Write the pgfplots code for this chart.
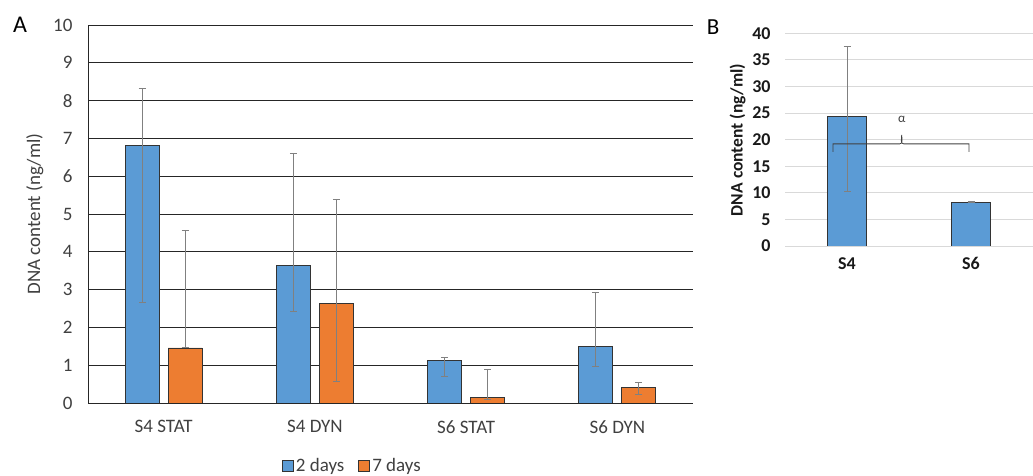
\documentclass[border=0pt]{standalone}
\usepackage{fontspec}
\setmainfont{Carlito}
\usepackage{pgfplots}
\pgfplotsset{compat=1.18}
\definecolor{cblue}{HTML}{5B9BD5}
\definecolor{corange}{HTML}{ED7D31}
\definecolor{errgray}{HTML}{808080}
\definecolor{txt}{HTML}{404040}
\begin{document}
\begin{tikzpicture}[x=1bp,y=1bp]
\useasboundingbox (0,0) rectangle (1033,476);
\node[font=\fontsize{24bp}{28bp}\selectfont, text=black] at (20,451) {A};
\node[font=\fontsize{23bp}{27bp}\selectfont, text=black] at (713,448.5) {B};
\begin{axis}[
  at={(88bp,73bp)}, anchor=south west, scale only axis,
  width=605bp, height=378bp,
  xmin=-0.5, xmax=3.5, ymin=0, ymax=10,
  xtick={0,1,2,3}, xticklabels={S4 STAT, S4 DYN, S6 STAT, S6 DYN},
  ytick={0,1,...,10},
  major tick length=0pt,
  axis x line*=bottom, axis y line*=left,
  axis line style={black!85, line width=0.9bp, -},
  ymajorgrids, grid style={black!85, line width=0.9bp},
  /pgf/number format/assume math mode=true,
  tick label style={font=\fontsize{19bp}{22bp}\selectfont, text=txt},
  xticklabel style={yshift=-14bp},
  yticklabel style={xshift=-12bp},
  ylabel={DNA content (ng/ml)},
  ylabel style={font=\fontsize{19bp}{22bp}\selectfont, text=txt, at={(axis description cs:-0.088,0.5)}, anchor=center},
  legend style={at={(axis description cs:0.437,-0.167)}, anchor=center, draw=none, fill=none,
    legend columns=2, font=\fontsize{19bp}{22bp}\selectfont, text=txt,
    /tikz/every even column/.append style={column sep=12bp}},
]
\addplot[ybar, bar width=0.225, bar shift=0, fill=cblue, draw=black!80, line width=0.9bp,
  legend image code/.code={\draw[fill=cblue, draw=black!80, line width=0.9bp] (0bp,-5.5bp) rectangle (11bp,5.5bp);},
  error bars/.cd, y dir=both, y explicit,
  error bar style={errgray, line width=1bp},
  error mark options={errgray, rotate=90, mark size=3.5bp, line width=1bp}]
  coordinates {
  (-0.142,6.80) += (0,1.53) -= (0,4.15)
  (0.858,3.65) += (0,2.96) -= (0,1.22)
  (1.858,1.12) += (0,0.08) -= (0,0.42)
  (2.858,1.50) += (0,1.43) -= (0,0.54)
  };
\addlegendentry{2 days}
\addplot[ybar, bar width=0.225, bar shift=0, fill=corange, draw=black!80, line width=0.9bp,
  legend image code/.code={\draw[fill=corange, draw=black!80, line width=0.9bp] (0bp,-5.5bp) rectangle (11bp,5.5bp);},
  error bars/.cd, y dir=both, y explicit,
  error bar style={errgray, line width=1bp},
  error mark options={errgray, rotate=90, mark size=3.5bp, line width=1bp}]
  coordinates {
  (0.142,1.455) += (0,3.10) -= (0,0)
  (1.142,2.64) += (0,2.75) -= (0,2.08)
  (2.142,0.14) += (0,0.75) -= (0,0.04)
  (3.142,0.41) += (0,0.13) -= (0,0.18)
  };
\addlegendentry{7 days}
\end{axis}
\begin{axis}[
  at={(785bp,230bp)}, anchor=south west, scale only axis,
  width=248bp, height=212.7bp,
  xmin=-0.5, xmax=1.5, ymin=0, ymax=40,
  xtick={0,1}, xticklabels={S4, S6},
  ytick={0,5,...,40},
  major tick length=0pt,
  axis line style={draw=none},
  ymajorgrids, grid style={black!15, line width=0.9bp},
  /pgf/number format/assume math mode=true,
  tick label style={font=\bfseries\fontsize{18bp}{21bp}\selectfont, text=black!90},
  xticklabel style={yshift=-8bp},
  yticklabel style={xshift=-11bp},
  ylabel={DNA content (ng/ml)},
  ylabel style={font=\bfseries\fontsize{17.5bp}{21bp}\selectfont, text=black!90, at={(axis description cs:-0.1915,0.498)}, anchor=center},
]
\addplot[ybar, bar width=0.32, bar shift=0, fill=cblue, draw=black!80, line width=0.9bp,
  error bars/.cd, y dir=both, y explicit,
  error bar style={errgray, line width=1bp},
  error mark options={errgray, rotate=90, mark size=3.5bp, line width=1bp}]
  coordinates {
  (0,24.4) += (0,13.1) -= (0,14.2)
  (1,8.27) += (0,0.05) -= (0,0.05)
  };
\draw[black!75, line width=0.8bp] (axis cs:-0.113,17.7) -- (axis cs:-0.113,19.2) -- (axis cs:0.425,19.2)
  to[out=0,in=-90] (axis cs:0.441,20.9) to[out=-90,in=180] (axis cs:0.457,19.2)
  -- (axis cs:0.984,19.2) -- (axis cs:0.984,17.7);
\node[font=\fontsize{13bp}{15bp}\selectfont, text=txt] at (axis cs:0.441,23.9) {α};
\end{axis}
\end{tikzpicture}
\end{document}
